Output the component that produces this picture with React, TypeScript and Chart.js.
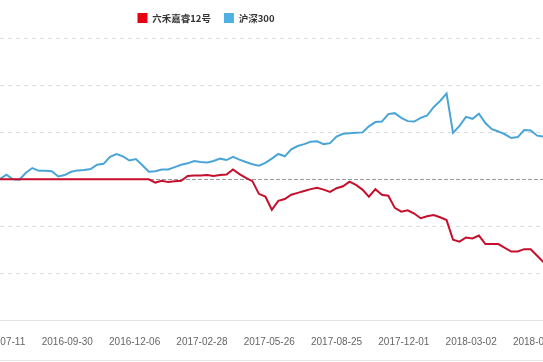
import React, { useEffect, useRef } from "react";
import { Chart, registerables } from "chart.js";

Chart.register(...registerables);

const seriesNames = ["六禾嘉睿12号", "沪深300"];
const tickLabels = [
  "2016-07-11", "2016-09-30", "2016-12-06", "2017-02-28", "2017-05-26",
  "2017-08-25", "2017-12-01", "2018-03-02", "2018-05-25",
];
const fundValues = [
  0, 0, 0, 0, 0, 0, 0, 0, 0, 0,
  0, 0, 0, 0, 0, 0, 0, 0, 0, 0,
  0, 0, 0, 0, -0.7, -0.3, -0.6, -0.4, -0.3, 0.7,
  0.8, 0.8, 0.9, 0.7, 0.9, 1.0, 2.1, 1.1, 0.3, -0.4,
  -3.1, -3.7, -6.5, -4.6, -4.2, -3.3, -2.9, -2.5, -2.1, -1.8,
  -2.2, -2.7, -1.9, -1.5, -0.5, -1.2, -2.2, -3.7, -2.1, -3.3,
  -3.5, -6.1, -6.9, -6.6, -7.3, -8.3, -7.9, -7.6, -8.1, -8.7,
  -12.9, -13.3, -12.4, -12.6, -12.0, -13.8, -13.8, -13.8, -14.6, -15.4,
  -15.4, -14.9, -14.9, -16.3, -17.7,
];
const indexValues = [
  0.1, 1.0, 0.0, -0.1, 1.4, 2.4, 1.8, 1.8, 1.7, 0.6,
  0.9, 1.6, 1.9, 2.0, 2.2, 3.1, 3.3, 4.8, 5.4, 4.9,
  4.0, 4.3, 3.0, 1.6, 1.7, 2.1, 2.1, 2.6, 3.1, 3.4,
  3.9, 3.7, 3.6, 3.9, 4.4, 4.1, 4.8, 4.2, 3.7, 3.2,
  2.9, 3.5, 4.4, 5.4, 4.9, 6.4, 7.1, 7.5, 8.0, 8.1,
  7.5, 7.7, 9.1, 9.7, 9.8, 9.9, 10.0, 11.3, 12.2, 12.3,
  13.9, 14.1, 13.1, 12.4, 12.3, 13.1, 13.6, 15.4, 16.7, 18.3,
  9.9, 11.4, 13.3, 12.9, 14.0, 12.0, 10.7, 10.2, 9.6, 8.8,
  9.0, 10.5, 10.4, 9.3, 9.1,
];
// data points between two consecutive date labels
const LABEL_STEP = 10.4;

const lineColors = ["#c50f2c", "#4aa5d6"];
const boxColors = ["#e60012", "#4fb0e3"];

const CANVAS_W = 674;
const CANVAS_H = 376;
const VIEW_H = 360;
const SHIFT = 131;

export default function App() {
  const ref = useRef<HTMLCanvasElement | null>(null);

  useEffect(() => {
    if (!ref.current) return;
    const toPts = (arr: number[]) => arr.map((v, i) => ({ x: i, y: v }));
    const chart = new Chart(ref.current, {
      type: "line",
      data: {
        datasets: [
          {
            label: seriesNames[0],
            data: toPts(fundValues),
            borderColor: lineColors[0],
            backgroundColor: boxColors[0],
            borderWidth: 2,
            pointRadius: 0,
            tension: 0,
          },
          {
            label: seriesNames[1],
            data: toPts(indexValues),
            borderColor: lineColors[1],
            backgroundColor: boxColors[1],
            borderWidth: 2,
            pointRadius: 0,
            tension: 0,
          },
        ],
      },
      options: {
        responsive: false,
        animation: false,
        devicePixelRatio: 1,
        layout: { padding: { left: 0, right: 0, top: 0, bottom: 12 } },
        plugins: {
          tooltip: { enabled: false },
          legend: {
            display: true,
            position: "top",
            labels: {
              boxWidth: 10,
              boxHeight: 10,
              padding: 13,
              color: "#333",
              font: { size: 9.5, family: "'Noto Sans CJK SC', 'Noto Sans', sans-serif", weight: "bold" },
              generateLabels: (c: any) =>
                c.data.datasets.map((d: any, i: number) => ({
                  text: d.label,
                  fillStyle: boxColors[i],
                  strokeStyle: boxColors[i],
                  lineWidth: 0,
                  hidden: false,
                  datasetIndex: i,
                  fontColor: "#333",
                })),
            },
          },
        },
        scales: {
          x: {
            type: "linear",
            min: 0,
            max: 83.9,
            grid: { display: false, drawTicks: false },
            border: { display: true, color: "#e2e2e2", width: 1 },
            afterBuildTicks: (s: any) => {
              s.ticks = tickLabels.map((_, k) => ({ value: k * LABEL_STEP }));
            },
            ticks: {
              autoSkip: false,
              maxRotation: 0,
              padding: 16,
              color: "#666",
              font: { size: 10, family: "'Liberation Sans', Arial, sans-serif" },
              callback: (_v: any, idx: number) => tickLabels[idx] ?? "",
            },
            afterFit: (s: any) => {
              s.paddingLeft = 0;
              s.paddingRight = 0;
            },
          },
          y: {
            type: "linear",
            min: -30,
            max: 31.19,
            border: {
              display: false,
              dash: (ctx: any) => (ctx.tick && ctx.tick.value === 0 ? [4, 2] : [4, 4]),
            },
            grid: {
              drawTicks: false,
              lineWidth: 1,
              color: (ctx: any) => {
                const v = ctx.tick ? ctx.tick.value : null;
                if (v === 0) return "#999999";
                if (v === -30 || v === null || v % 10 !== 0) return "rgba(0,0,0,0)";
                return "#dcdcdc";
              },
            },
            ticks: { display: false, stepSize: 10, includeBounds: false },
            afterFit: (s: any) => {
              s.width = SHIFT;
            },
          },
        },
      },
    });
    return () => chart.destroy();
  }, []);

  return (
    <div
      style={{
        position: "fixed",
        left: 0,
        top: 0,
        width: 543,
        height: VIEW_H,
        overflow: "hidden",
        background: "#fff",
        borderBottom: "1px solid #e6e6e6",
      }}
    >
      <canvas
        ref={ref}
        width={CANVAS_W}
        height={CANVAS_H}
        style={{ position: "absolute", left: -SHIFT, top: 0, width: CANVAS_W, height: CANVAS_H }}
      />
    </div>
  );
}
